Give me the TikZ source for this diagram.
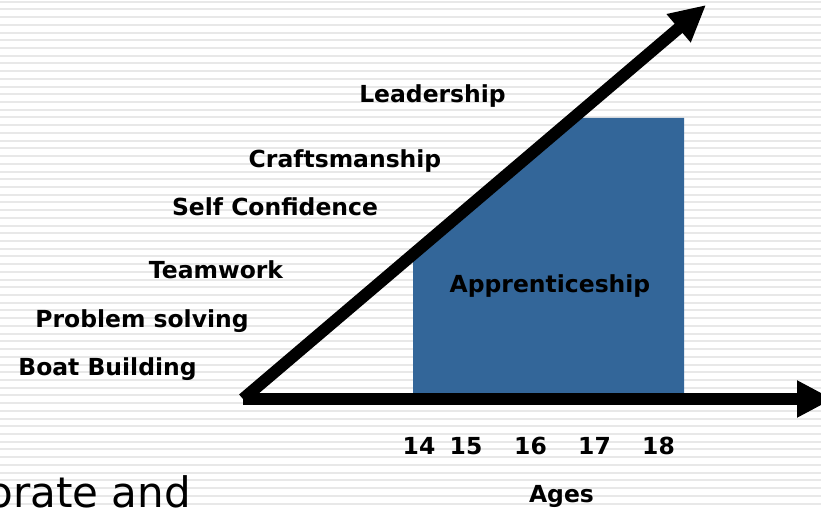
\documentclass[tikz,border=0pt]{standalone}
\usepackage{fontspec}
\setmainfont{DejaVu Sans}
\usetikzlibrary{arrows.meta}
\definecolor{appblue}{HTML}{336699}
\tikzset{
  label/.style={font=\fontsize{17.6}{20}\selectfont\bfseries, anchor=base, inner sep=0pt},
  axis/.style={line width=9pt, -{Triangle[length=27pt,width=26pt]}},
  stripe/.style={black!9, line width=1.5pt}
}

\begin{document}
\begin{tikzpicture}[x=0.75pt,y=-0.75pt]
  \useasboundingbox (0,0) rectangle (821,509);
  \fill[white] (0,0) rectangle (821,509);
  \foreach \i in {0,...,65}
    \draw[stripe] (0,{1.7+7.72*\i}) -- (821,{1.7+7.72*\i});

  % apprenticeship block
  \fill[appblue] (413,399) -- (413,254) -- (573,118) -- (684,118) -- (684,399) -- cycle;
  \node[label] (appr) at (550,293) {Apprenticeship};

  % axes
  \coordinate (O) at (243,399);
  \coordinate (xend) at (833,399);
  \coordinate (yend) at (706,5);
  \draw[axis] (O) -- (xend);
  \draw[axis] (O) -- (yend);

  % skills
  \node[label] (lead) at (432.5,103) {Leadership};
  \node[label] (craft) at (345,168) {Craftsmanship};
  \node[label] (conf) at (275,216) {Self Confidence};
  \node[label] (team) at (216,279) {Teamwork};
  \node[label] (prob) at (142,328) {Problem solving};
  \node[label] (boat) at (107.5,376) {Boat Building};

  % ages
  \node[label] (a14) at (419,455) {14};
  \node[label] (a15) at (466,455) {15};
  \node[label] (a16) at (530.5,455) {16};
  \node[label] (a17) at (594.5,455) {17};
  \node[label] (a18) at (658.5,455) {18};
  \node[label] (ages) at (561.5,502) {Ages};

  \node[font=\fontsize{31.5}{36}\selectfont, anchor=base east, inner sep=0pt] (cut) at (191,507) {orate and};
\end{tikzpicture}
\end{document}
